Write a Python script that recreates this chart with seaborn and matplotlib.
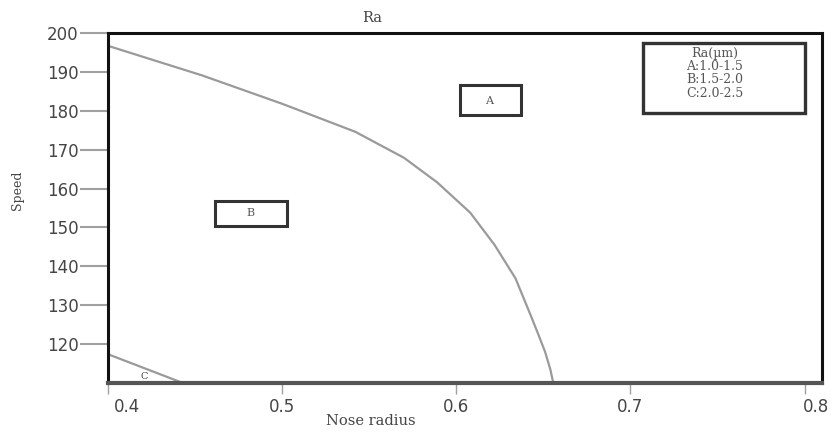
import matplotlib
matplotlib.use("Agg")
import matplotlib.pyplot as plt
import matplotlib.transforms as mtrans
from matplotlib.patches import Rectangle
import seaborn as sns
import pandas as pd

# boundary between zone A and zone B
raio_ab = [0.400, 0.454, 0.500, 0.542, 0.570, 0.589, 0.608, 0.622, 0.634, 0.643, 0.647, 0.651, 0.654, 0.6557]
vel_ab = [196.7, 189.1, 181.8, 174.6, 167.9, 161.6, 153.8, 145.5, 136.9, 127.1, 122.6, 118.0, 113.5, 110.0]

# boundary between zone B and zone C
raio_bc = [0.400, 0.443]
vel_bc = [117.4, 110.0]

zonas = ["A", "B", "C"]
zona_x = [0.619, 0.482, 0.421]
zona_y = [182.5, 153.7, 111.7]

legenda = ["Ra(\u00b5m)", "A:1.0-1.5", "B:1.5-2.0", "C:2.0-2.5"]

x_ticks = [0.4, 0.5, 0.6, 0.7, 0.8]
y_ticks = [120, 130, 140, 150, 160, 170, 180, 190, 200]

sns.set_theme(style="white")
serif = ["DejaVu Serif"]
cinza = "#454545"

fig, ax = plt.subplots(figsize=(8.33, 4.32), dpi=100)
fig.subplots_adjust(left=108 / 833, right=822 / 833, top=1 - 33 / 432, bottom=1 - 383 / 432)

df_ab = pd.DataFrame({"r": raio_ab, "v": vel_ab})
df_bc = pd.DataFrame({"r": raio_bc, "v": vel_bc})
sns.lineplot(data=df_ab, x="r", y="v", ax=ax, color="#9a9a9a", lw=1.6, sort=False)
sns.lineplot(data=df_bc, x="r", y="v", ax=ax, color="#9a9a9a", lw=1.6, sort=False)

# zone label boxes
ax.add_patch(Rectangle((0.602, 178.9), 0.035, 7.7, fc="white", ec="#333333", lw=2.2, zorder=3))
ax.add_patch(Rectangle((0.4615, 150.4), 0.0415, 6.4, fc="white", ec="#333333", lw=2.2, zorder=3))
for i in range(2):
    ax.text(zona_x[i], zona_y[i], zonas[i], ha="center", va="center", fontsize=8,
            family=serif, color="#555555", zorder=4)
ax.text(zona_x[2], zona_y[2], zonas[2], ha="center", va="center", fontsize=7,
        family=serif, color="#444444")

# legend box
ax.add_patch(Rectangle((0.749, 0.771), 0.227, 0.2, transform=ax.transAxes,
                       fc="white", ec="#333333", lw=2.4, zorder=3))
for txt, yy in zip(legenda, [0.940, 0.904, 0.866, 0.826]):
    ax.text(0.85, yy, txt, transform=ax.transAxes, ha="center", va="center",
            fontsize=9, family=serif, color="#555555", zorder=4)

ax.set_xlim(0.4, 0.81)
ax.set_ylim(110, 200)
ax.set_xticks(x_ticks)
ax.set_yticks(y_ticks)
ax.set_xticklabels([str(v) for v in x_ticks], fontsize=12, color=cinza)
ax.set_yticklabels([str(v) for v in y_ticks], fontsize=12, color=cinza)
ax.tick_params(axis="y", direction="out", length=20, width=1.5, color="#a0a0a0",
               left=True, pad=1)
ax.tick_params(axis="x", direction="out", length=8, width=1, color="#a0a0a0",
               bottom=True, pad=3)
xl = ax.get_xticklabels()
xl[0].set_transform(xl[0].get_transform() + mtrans.ScaledTranslation(19 / 100, 0, fig.dpi_scale_trans))
xl[-1].set_transform(xl[-1].get_transform() + mtrans.ScaledTranslation(11 / 100, 0, fig.dpi_scale_trans))

ax.set_xlabel("Nose radius", family=serif, fontsize=10.5, color=cinza)
ax.xaxis.set_label_coords(0.368, -0.088)
ax.set_ylabel("Speed", family=serif, fontsize=9, color=cinza)
ax.yaxis.set_label_coords(-0.118, 0.55)
ax.set_title("Ra", family=serif, fontsize=10.5, color=cinza, x=0.37, pad=8)

for lado in ["top", "right", "left"]:
    ax.spines[lado].set_color("#111111")
    ax.spines[lado].set_linewidth(2.2)
ax.spines["bottom"].set_color("#555555")
ax.spines["bottom"].set_linewidth(3)

fig.savefig("out.png", dpi=100)
